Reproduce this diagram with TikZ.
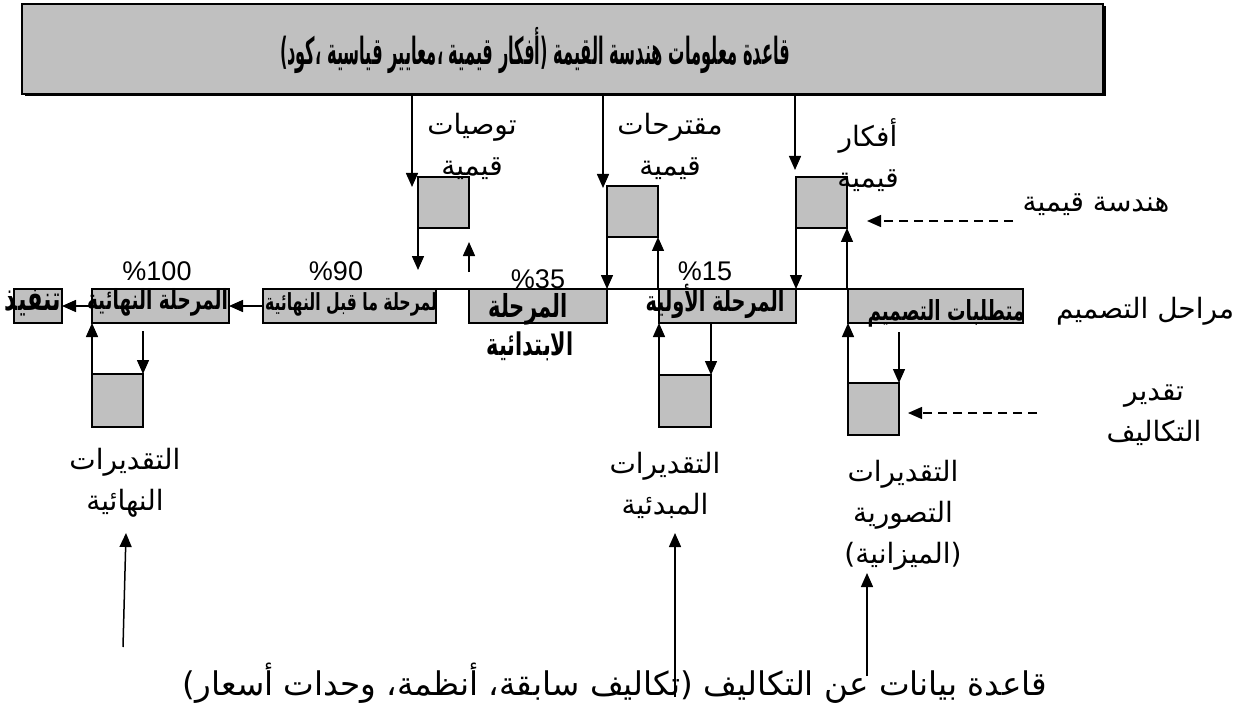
\documentclass[tikz,border=0pt]{standalone}
\usepackage{fontspec}
\usepackage{graphicx}
\setmainfont{Liberation Sans}
\newfontfamily\arabicfont[Script=Arabic]{DejaVu Sans}
\TeXXeTstate=1
\usetikzlibrary{arrows.meta,calc}
\definecolor{boxgray}{RGB}{192,192,192}
\begin{document}
\begin{tikzpicture}[x=1pt,y=-1pt,
  graybox/.style={draw=black, fill=boxgray, line width=1.4pt, inner sep=0pt, outer sep=0pt},
  arr/.style={line width=1.5pt, -{Triangle[length=14pt,width=12pt]}},
  darr/.style={line width=1.3pt, dash pattern=on 9pt off 6pt, -{Triangle[length=14pt,width=12pt]}},
  plain/.style={line width=1.5pt},
  lbl/.style={inner sep=0pt, font=\arabicfont\fontsize{28}{41}\selectfont, align=center},
  pct/.style={inner sep=0pt, font=\fontsize{27}{27}\selectfont},
  blbl/.style={inner sep=0pt, font=\arabicfont\bfseries\fontsize{16}{16}\selectfont}]
\useasboundingbox (0,0) rectangle (1249,711);

% knowledge base box with shadow
\node[fill=black, minimum width=1081pt, minimum height=90pt, inner sep=0pt] (kbs) at (565,51.5) {};
\node[graybox, minimum width=1081pt, minimum height=90pt] (kb) at (562.5,49) {};
\node[blbl] (kbt) at (535,50) {\resizebox{510pt}{!}{\scalebox{1}[2.3]{\beginR قاعدة معلومات هندسة القيمة (أفكار قيمية ،معايير قياسية ،كود)\endR}}};

% value boxes
\node[graybox, minimum width=51pt, minimum height=51pt] (b1) at (443.5,202.5) {};
\node[graybox, minimum width=51pt, minimum height=51pt] (b2) at (632.5,211.5) {};
\node[graybox, minimum width=51pt, minimum height=51pt] (b3) at (821.5,202.5) {};

% phase boxes
\node[graybox, minimum width=48pt, minimum height=34pt] (p0) at (38,306) {};
\node[graybox, minimum width=137pt, minimum height=34pt] (p1) at (160.5,306) {};
\node[graybox, minimum width=173pt, minimum height=34pt] (p2) at (349.5,306) {};
\node[graybox, minimum width=138pt, minimum height=34pt] (p3) at (538,306) {};
\node[graybox, minimum width=137pt, minimum height=34pt] (p4) at (727.5,306) {};
\node[graybox, minimum width=175pt, minimum height=34pt] (p5) at (935.5,306) {};

% cost boxes
\node[graybox, minimum width=51pt, minimum height=53pt] (c1) at (117.5,400.5) {};
\node[graybox, minimum width=52pt, minimum height=52pt] (c2) at (685,401) {};
\node[graybox, minimum width=51pt, minimum height=52pt] (c3) at (873.5,409) {};

% phase labels
\node[blbl] (t0) at (33,303) {\resizebox{56pt}{!}{\scalebox{1}[1.5]{\beginR تنفيذ\endR}}};
\node[blbl] (t1) at (157.5,302) {\resizebox{141pt}{!}{\scalebox{1}[1.5]{\beginR المرحلة النهائية\endR}}};
\node[blbl] (t2) at (351,304) {\resizebox{172pt}{!}{\scalebox{1}[1.5]{\beginR لمرحلة ما قبل النهائية\endR}}};
\node[blbl] (t3) at (528,309) {\resizebox{79pt}{!}{\scalebox{1}[1.5]{\beginR المرحلة\endR}}};
\node[blbl] (t3b) at (530,346) {\resizebox{87pt}{!}{\scalebox{1}[1.5]{\beginR الابتدائية\endR}}};
\node[blbl] (t4) at (715,301) {\resizebox{139pt}{!}{\scalebox{1}[1.5]{\beginR المرحلة الأولية\endR}}};
\node[blbl] (t5) at (946,313) {\resizebox{157pt}{!}{\scalebox{1}[1.5]{\beginR متطلبات التصميم\endR}}};

% percentages
\node[pct] (q1) at (157,271) {\%100};
\node[pct] (q2) at (336,271) {\%90};
\node[pct] (q3) at (538,279) {\%35};
\node[pct] (q4) at (705,271) {\%15};

% text labels
\node[lbl] (l1) at (472,146) {\beginR توصيات\endR\\\beginR قيمية\endR};
\node[lbl] (l2) at (670,146) {\beginR مقترحات\endR\\\beginR قيمية\endR};
\node[lbl] (l3) at (868,155) {\beginR أفكار\endR\\\beginR قيمية\endR};
\node[lbl] (hq) at (1096,205) {\beginR هندسة قيمية\endR};
\node[lbl] (mt) at (1145,311) {\beginR مراحل التصميم\endR};
\node[lbl] (tk) at (1154,415) {\beginR تقدير\endR\\\beginR التكاليف\endR};
\node[lbl] (e1) at (125,483) {\beginR التقديرات\endR\\\beginR النهائية\endR};
\node[lbl] (e2) at (665,485) {\beginR التقديرات\endR\\\beginR المبدئية\endR};
\node[lbl] (e3) at (903,515) {\beginR التقديرات\endR\\\beginR التصورية\endR\\\beginR (الميزانية)\endR};
\node[inner sep=0pt, font=\arabicfont] (db) at (615,683) {\resizebox{864pt}{!}{\beginR قاعدة بيانات عن التكاليف (تكاليف سابقة، أنظمة، وحدات أسعار)\endR}};

% arrows from knowledge base
\coordinate (a1) at ($(b1.north west)+(-6,10)$);
\coordinate (a2) at ($(b2.north west)+(-4,2)$);
\coordinate (a3) at ($(b3.north west)+(-1,-7)$);
\draw[arr] (a1 |- kb.south) -- (a1);
\draw[arr] (a2 |- kb.south) -- (a2);
\draw[arr] (a3 |- kb.south) -- (a3);

% value boxes to/from phases
\draw[arr] (b1.south west) -- ($(b1.south west)+(0,42)$);
\draw[arr] ($(b1.south east)+(0,44)$) -- ($(b1.south east)+(0,14)$);
\draw[arr] (b2.south west) -- (b2.south west |- p3.north);
\draw[arr] (b2.south east |- p4.north) -- (b2.south east);
\draw[arr] (b3.south west) -- (b3.south west |- p4.north);
\draw[arr] (b3.south east |- p5.north) -- (b3.south east);

% main time line
\coordinate (ml) at (410,289);
\draw[plain] (ml) -- (p5.north west);

% phase sequence
\draw[arr] (p2.west) -- (p1.east);
\draw[arr] (p1.west) -- (p0.east);

% cost boxes
\draw[arr] (c1.north west) -- (c1.north west |- p1.south);
\draw[arr] ($(c1.north east |- p1.south)+(0,8)$) -- (c1.north east);
\draw[arr] (c2.north west) -- (c2.north west |- p4.south);
\draw[arr] (c2.north east |- p4.south) -- (c2.north east);
\draw[arr] (c3.north west) -- (c3.north west |- p5.south);
\draw[arr] ($(c3.north east |- p5.south)+(0,9)$) -- (c3.north east);

% dashed arrows
\coordinate (d1) at (1013,221);
\draw[darr] (d1) -- ($(b3.south east)+(20,-7)$);
\coordinate (d2) at (1037,413);
\draw[darr] (d2) -- ($(c3.east)+(9,4)$);

% arrows from cost database
\coordinate (s1) at (123,647);
\coordinate (s2) at (675,697);
\coordinate (s3) at (867,676);
\coordinate (u1) at (126,533);
\coordinate (u2) at (675,533);
\coordinate (u3) at (867,573);
\draw[arr] (s1) -- (u1);
\draw[arr] (s2) -- (u2);
\draw[arr] (s3) -- (u3);
\end{tikzpicture}
\end{document}
